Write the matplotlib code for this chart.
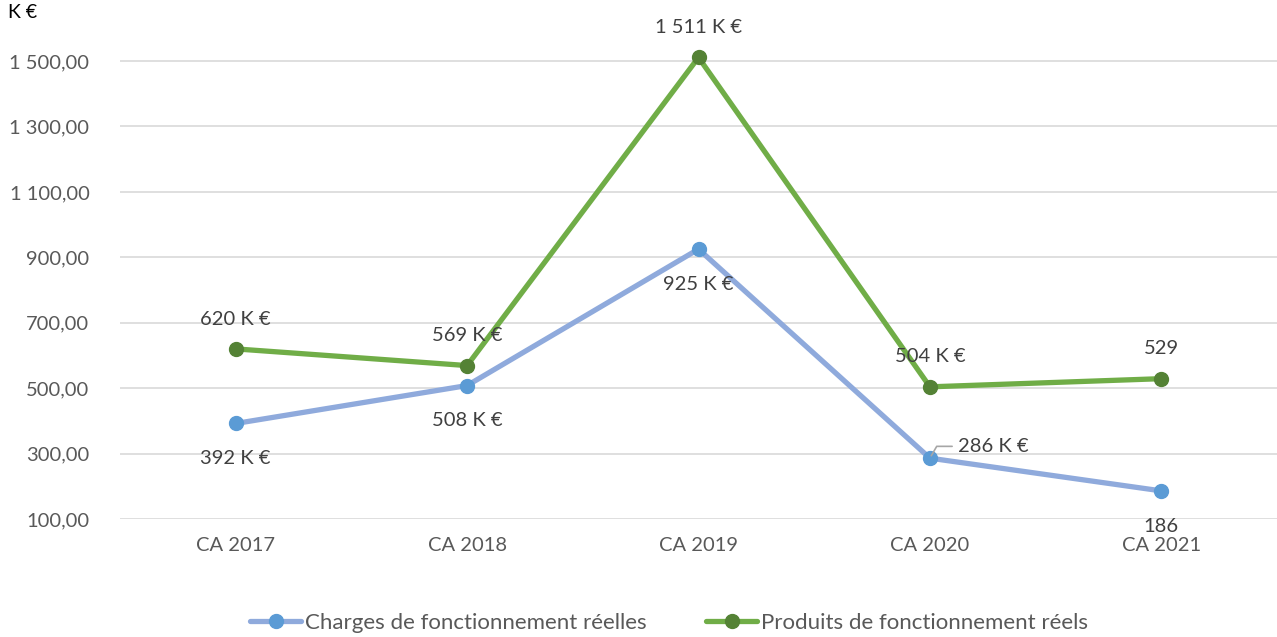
import matplotlib
matplotlib.use("Agg")
import matplotlib.pyplot as plt

categories = ["CA 2017", "CA 2018", "CA 2019", "CA 2020", "CA 2021"]
charges = [392, 508, 925, 286, 186]
produits = [620, 569, 1511, 504, 529]
charges_labels = ["392 K €", "508 K €", "925 K €", "286 K €", "186"]
produits_labels = ["620 K €", "569 K €", "1 511 K €", "504 K €", "529"]
yticks = [100, 300, 500, 700, 900, 1100, 1300, 1500]
ytick_labels = ["100,00", "300,00", "500,00", "700,00", "900,00", "1 100,00", "1 300,00", "1 500,00"]

plt.rcParams['font.family'] = ['Lato', 'DejaVu Sans']

W, H = 1277, 637
fig = plt.figure(figsize=(W / 100, H / 100), dpi=100)
ax = fig.add_axes([120 / W, (H - 519) / H, (W - 120) / W, (519 - 10) / H])

x = list(range(len(categories)))
c_line, c_mark = "#8FAADC", "#5B9BD5"
p_line, p_mark = "#70AD47", "#548235"

ax.plot(x, charges, color=c_line, lw=3.8, marker="o", ms=10, mfc=c_mark, mec=c_mark,
        label="Charges de fonctionnement réelles", zorder=3, solid_capstyle="round")
ax.plot(x, produits, color=p_line, lw=3.8, marker="o", ms=10, mfc=p_mark, mec=p_mark,
        label="Produits de fonctionnement réels", zorder=3, solid_capstyle="round")

ax.set_xlim(-0.5, len(categories) - 0.5)
ax.set_ylim(100, 1656)
ax.set_yticks(yticks)
ax.set_yticklabels(ytick_labels)
ax.set_xticks(x)
ax.set_xticklabels(categories)
ax.grid(axis="y", color="#D9D9D9", lw=1.2)
ax.set_axisbelow(True)
for s in ax.spines.values():
    s.set_visible(False)
ax.tick_params(axis="both", length=0, labelsize=14.5, colors="#595959")
ax.tick_params(axis="y", pad=22)
ax.tick_params(axis="x", pad=13)

lab_col = "#404040"
fs = 14.5
for i, (v, t) in enumerate(zip(charges, charges_labels)):
    if i == 3:
        ax.annotate(t, (i, v), xytext=(20, 8.5), textcoords="offset points",
                    ha="left", va="center", fontsize=fs, color=lab_col,
                    arrowprops=dict(arrowstyle="-", color="#A6A6A6", lw=1.2,
                                    shrinkA=2, shrinkB=2,
                                    connectionstyle="angle,angleA=0,angleB=60,rad=0"))
    else:
        ax.annotate(t, (i, v), xytext=(0, -25.5), textcoords="offset points",
                    ha="center", va="center", fontsize=fs, color=lab_col)
for i, (v, t) in enumerate(zip(produits, produits_labels)):
    ax.annotate(t, (i, v), xytext=(0, 21.5), textcoords="offset points",
                ha="center", va="center", fontsize=fs, color=lab_col)

fig.text(8 / W, 1 - 13 / H, "K €", fontsize=14, color="#000000", ha="left", va="center")

leg = fig.legend(loc="center", bbox_to_anchor=(669 / W, 1 - 623 / H), ncol=2,
                 frameon=False, fontsize=16, handlelength=2.3, handletextpad=0.15,
                 columnspacing=2.7, labelcolor="#595959")

fig.savefig("out.png", dpi=100)
